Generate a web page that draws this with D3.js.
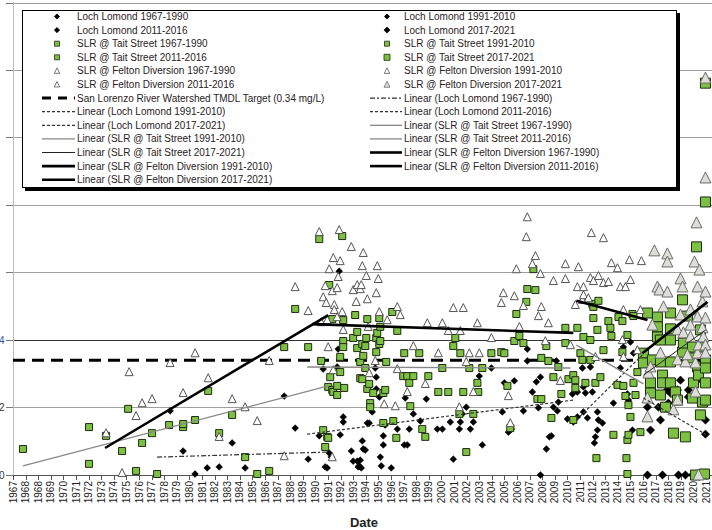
<!DOCTYPE html>
<html>
<head>
<meta charset="utf-8">
<script src="https://cdn.jsdelivr.net/npm/d3@7"></script>
<style>
  body { margin: 0; background: #fff; }
  text { font-family: "Liberation Sans", Arial, sans-serif; }
</style>
</head>
<body>
<div class="chart-container"></div>
<script>
// values: [decimal year, mg/L]
const lochLomond = [
  [1979.46,0.19],[1980.49,0.071],[1981.44,0.003],[1982.4,0.021],[1983.35,0.024],[1984.38,0.095],[1985.41,0.021],
  [1988.51,0.234],[1989.38,0.139],[1990.41,0.047],
  [1991.29,0.116],[1991.6,0.314],[1991.76,0.024],[1991.92,0.021],[1992.08,0.065],[1992.24,0.053],[1992.71,0.32],
  [1992.79,0.373],[1992.87,0.604],[1992.95,0.119],[1993.19,0.172],[1993.19,0.157],[1993.83,0.071],[1993.98,0.041],
  [1994.3,0.041],[1994.38,0.024],[1994.46,0.027],[1994.54,0.044],[1994.62,0.021],[1994.7,0.101],[1994.78,0.077],
  [1994.94,0.074],[1995.1,0.154],[1995.25,0.154],[1995.49,0.187],[1995.73,0.317],[1995.81,0.29],[1995.81,0.255],
  [1996.05,0.231],[1996.13,0.053],[1996.21,0.027],[1996.37,0.116],[1996.37,0.089],[1996.52,0.148],[1997.0,0.021],
  [1997.48,0.136],[1998.03,0.089],[1998.11,0.228],[1998.27,0.089],[1998.43,0.136],[1998.75,0.181],[1999.3,0.16],
  [1999.78,0.225],[2000.65,0.136],[2001.05,0.136],[2001.68,0.157],[2001.92,0.047],[2002.4,0.136],[2002.48,0.157],
  [2002.63,0.181],[2002.95,0.201],[2003.27,0.136],[2003.51,0.157],[2003.98,0.293],[2004.22,0.089],[2004.94,0.317],
  [2005.81,0.187],[2005.97,0.273],[2006.29,0.127],[2006.52,0.136],[2006.76,0.279],[2007.48,0.19],[2007.79,0.373],
  [2007.79,0.338],[2008.19,0.246],[2008.51,0.276],[2008.67,0.199],[2008.83,0.29],[2008.83,0.0],[2009.3,0.077],
  [2009.54,0.113],[2009.7,0.116],[2009.86,0.201],[2010.1,0.338],[2010.17,0.19],[2010.25,0.216],[2010.97,0.166],
  [2011.37,0.24],[2011.44,0.157],[2011.76,0.246],[2011.76,0.172],[2012.16,0.317],[2012.24,0.261],[2012.24,0.187],
  [2012.4,0.243],[2012.56,0.169],[2012.79,0.32],[2012.95,0.246],[2013.11,0.095],[2013.19,0.113],[2013.35,0.133],
  [2013.35,0.187],[2013.43,0.163],[2013.75,0.154],[2014.62,0.213],[2015.17,0.317],[2015.41,0.379],[2015.73,0.24],
  [2015.81,0.222],[2015.97,0.394],[2016.13,0.133],[2016.21,0.361],
  [2017.32,0.201],[2017.32,0.0],[2017.56,0.261],[2017.56,0.133],[2018.19,0.201],[2018.35,0.163],[2018.51,0.0],
  [2018.9,0.252],[2018.98,0.213],[2019.14,0.243],[2019.7,0.252],[2019.78,0.0],[2019.94,0.281],[2020.33,0.0],
  [2020.57,0.252],[2020.57,0.231],[2020.89,0.0],[2021.29,0.281],[2021.92,0.163],[2021.92,0.121]
];

const taitStreet = [
  [1967.79,0.077],[1973.03,0.033],[1973.03,0.142],[1974.38,0.116],[1975.65,0.071],[1976.13,0.196],[1976.76,0.012],
  [1977.24,0.095],[1978.03,0.124],[1978.43,0.003],[1979.38,0.148],[1980.49,0.142],[1980.5,0.151],[1981.44,0.163],
  [1982.48,0.249],[1983.35,0.124],[1984.38,0.178],[1985.41,0.053],[1986.37,0.003],[1987.32,0.012],[1988.51,0.379],
  [1989.38,0.492],[1990.41,0.379],
  [1991.29,0.699],[1991.44,0.338],[1991.6,0.133],[1991.76,0.083],[1991.92,0.113],[1992.0,0.11],[1992.0,0.261],
  [1992.08,0.563],[1992.16,0.29],[1992.32,0.252],[1992.32,0.462],[1992.4,0.246],[1992.71,0.264],[1992.71,0.237],
  [1992.95,0.305],[1992.95,0.35],[1993.11,0.708],[1993.19,0.397],[1993.19,0.379],[1993.19,0.459],[1993.27,0.258],
  [1993.98,0.406],[1994.14,0.474],[1994.3,0.424],[1994.3,0.376],[1994.54,0.335],[1994.54,0.287],[1994.7,0.388],
  [1994.7,0.284],[1994.78,0.353],[1994.94,0.382],[1994.94,0.317],[1995.02,0.406],[1995.1,0.255],[1995.1,0.462],
  [1995.25,0.27],[1995.33,0.213],[1995.33,0.201],[1995.57,0.243],[1995.81,0.406],[1995.81,0.364],[1995.89,0.421],
  [1996.05,0.465],[1996.05,0.388],[1996.13,0.439],[1996.13,0.397],[1996.37,0.243],[1996.37,0.154],[1996.52,0.252],
  [1996.6,0.335],[1997.08,0.483],[1997.16,0.16],[1997.4,0.11],[1997.48,0.427],[1997.95,0.293],[1998.03,0.361],
  [1998.27,0.293],[1998.43,0.273],[1998.51,0.204],[1998.75,0.293],[1999.22,0.361],[1999.46,0.136],[1999.7,0.113],
  [1999.94,0.293],[2000.73,0.246],[2001.05,0.317],[2001.52,0.246],[2001.92,0.382],[2002.08,0.406],[2002.4,0.181],
  [2002.48,0.361],[2002.71,0.246],[2002.95,0.068],[2003.19,0.317],[2003.51,0.181],[2003.83,0.273],[2003.9,0.246],
  [2004.22,0.317],[2004.94,0.361],[2005.73,0.364],[2005.97,0.361],[2006.21,0.264],[2006.44,0.139],[2006.76,0.397],
  [2006.92,0.477],[2007.16,0.412],[2007.48,0.391],[2007.71,0.513],[2007.79,0.551],[2008.27,0.61],[2008.43,0.548],
  [2008.59,0.225],[2008.9,0.225],[2008.9,0.347],[2009.3,0.382],[2009.46,0.338],[2009.7,0.169],[2009.86,0.29],
  [2010.25,0.32],[2010.49,0.24],[2010.81,0.436],[2010.81,0.391],
  [2011.05,0.284],[2011.44,0.296],[2011.44,0.163],[2011.6,0.281],[2011.6,0.258],[2011.76,0.436],[2012.0,0.361],
  [2012.16,0.341],[2012.24,0.409],[2012.4,0.273],[2012.79,0.4],[2012.79,0.341],[2012.95,0.507],[2013.03,0.498],
  [2013.03,0.465],[2013.19,0.273],[2013.27,0.05],[2013.35,0.43],[2013.43,0.516],[2013.59,0.29],[2013.83,0.37],
  [2014.22,0.456],[2014.38,0.436],[2014.46,0.412],[2014.62,0.119],[2014.94,0.267],[2015.02,0.468],[2015.33,0.456],
  [2015.33,0.364],[2015.41,0.264],[2015.57,0.234],[2015.65,0.05],[2015.73,0.415],[2015.73,0.104],[2015.73,0.003],
  [2015.81,0.207],[2015.81,0.119],[2015.97,0.172],[2016.13,0.477],[2016.21,0.471],[2016.21,0.273],[2016.37,0.237],
  [2016.52,0.305],[2016.76,0.127],
  [2017.0,0.361],[2017.0,0.332],[2017.32,0.48],[2017.56,0.273],[2017.56,0.243],[2017.71,0.341],[2018.11,0.468],
  [2018.11,0.439],[2018.11,0.409],[2018.35,0.4],[2018.35,0.335],[2018.35,0.237],[2018.51,0.296],[2018.51,0.273],
  [2018.75,0.201],[2019.14,0.48],[2019.14,0.433],[2019.14,0.4],[2019.14,0.335],[2019.14,0.273],[2019.38,0.124],
  [2019.54,0.246],[2019.7,0.222],[2020.1,0.519],[2020.1,0.364],[2020.17,0.391],[2020.33,0.113],[2020.49,0.471],
  [2020.73,0.347],[2020.89,0.379],[2020.89,0.228],[2020.97,0.273],[2021.13,0.0],[2021.21,0.676],[2021.29,0.32],
  [2021.37,0.296],[2021.52,0.43],[2021.52,0.178],[2021.68,0.379],[2021.68,0.216],[2021.84,0.003],[2021.92,0.341],
  [2021.92,0.317],[2021.92,0.273],[2021.92,0.222],[2021.92,0.809],[2021.92,1.161]
];

const feltonDiversion = [
  [1974.38,0.124],[1975.65,0.006],[1976.21,0.305],[1976.76,0.175],[1977.24,0.213],[1978.03,0.225],[1979.46,0.332],
  [1980.49,0.243],[1981.44,0.361],[1982.48,0.287],[1983.35,0.113],[1984.38,0.225],[1985.41,0.201],[1986.37,0.16],
  [1987.32,0.338],[1988.51,0.056],[1989.38,0.557],[1990.41,0.486],
  [1991.29,0.72],[1991.44,0.453],[1991.6,0.527],[1991.76,0.56],[1991.84,0.51],[1991.92,0.459],[1992.0,0.379],
  [1992.08,0.61],[1992.32,0.545],[1992.32,0.053],[1992.4,0.643],[1992.4,0.311],[1992.48,0.504],[1992.48,0.489],
  [1992.71,0.554],[1992.71,0.468],[1992.79,0.587],[1992.87,0.726],[1992.95,0.634],[1993.11,0.483],[1993.19,0.43],
  [1993.83,0.676],[1993.98,0.548],[1994.22,0.513],[1994.3,0.563],[1994.54,0.551],[1994.62,0.563],[1994.7,0.619],
  [1994.78,0.658],[1995.02,0.59],[1995.1,0.521],[1995.17,0.439],[1995.25,0.302],[1995.73,0.338],[1995.81,0.539],
  [1995.89,0.619],[1995.97,0.581],[1996.05,0.483],[1996.44,0.21],[1996.68,0.459],[1997.32,0.204],[1997.48,0.498],
  [1997.48,0.314],[1997.71,0.474],[1998.27,0.246],[1998.75,0.382],[1999.7,0.27],[1999.86,0.45],[2000.73,0.361],
  [2001.05,0.45],[2001.52,0.427],[2001.92,0.495],[2002.4,0.201],[2002.48,0.427],[2002.71,0.495],[2002.95,0.335],
  [2003.19,0.361],[2003.51,0.246],[2003.83,0.45],[2003.98,0.361],[2004.94,0.406],[2005.73,0.51],[2005.89,0.539],
  [2006.29,0.234],[2006.44,0.154],[2006.76,0.53],[2006.92,0.61],[2007.16,0.439],[2007.48,0.501],[2007.71,0.705],
  [2007.79,0.764],[2008.19,0.625],[2008.43,0.649],[2008.67,0.471],[2008.83,0.596],[2008.9,0.498],[2009.22,0.397],
  [2009.46,0.45],[2009.86,0.575],[2010.41,0.279],[2010.81,0.581],[2010.81,0.625],
  [2011.21,0.385],[2011.6,0.504],[2011.76,0.557],[2011.84,0.616],[2012.16,0.519],[2012.24,0.557],[2012.24,0.533],
  [2012.63,0.524],[2012.79,0.584],[2012.87,0.717],[2013.03,0.575],[2013.19,0.35],[2013.43,0.59],[2013.83,0.569],
  [2013.83,0.702],[2014.22,0.572],[2014.46,0.628],[2014.94,0.613],[2015.17,0.557],[2015.33,0.4],[2015.41,0.489],
  [2015.41,0.35],[2015.57,0.557],[2015.89,0.637],[2015.97,0.578],[2016.52,0.37],[2016.76,0.489],[2016.84,0.634],
  [2017.32,0.228],[2017.32,0.172],[2017.4,0.302],[2017.56,0.32],[2017.71,0.444],[2017.87,0.664],[2018.11,0.557],
  [2018.27,0.548],[2018.35,0.361],[2018.59,0.498],[2018.9,0.655],[2018.9,0.631],[2018.9,0.542],[2019.38,0.193],
  [2019.7,0.43],[2019.7,0.341],[2019.7,0.222],[2019.94,0.581],[2019.94,0.474],[2020.1,0.557],[2020.17,0.421],
  [2020.33,0.335],[2020.49,0.356],[2020.73,0.489],[2020.73,0.444],[2020.73,0.409],[2021.05,0.631],[2021.13,0.332],
  [2021.13,0.246],[2021.21,0.747],[2021.29,0.557],[2021.29,0.468],[2021.29,0.361],[2021.37,0.385],[2021.37,0.0],
  [2021.44,0.607],[2021.68,0.513],[2021.68,0.436],[2021.76,0.409],[2021.92,0.542],[2021.92,0.385],[2021.92,0.361],
  [2021.92,0.465],[2021.92,0.88],[2021.92,1.176]
];

// linear trend lines, start and end points [year, mg/L]
const llTrends = [[[1978.43,0.053],[1992.0,0.068]], [[1990.33,0.121],[2011.44,0.222]],
                  [[2011.68,0.163],[2016.92,0.356]], [[2017.0,0.228],[2021.95,0.12]]];
const taitTrends = [[[1967.79,0.027],[1992.0,0.264]], [[1990.33,0.32],[2011.21,0.317]],
                    [[2011.68,0.385],[2017.0,0.27]], [[2017.0,0.296],[2021.95,0.43]]];
const feltonTrends = [[[1974.3,0.08],[1992.0,0.474]], [[1990.73,0.447],[2011.44,0.421]],
                      [[2011.68,0.516],[2017.32,0.459]], [[2016.92,0.361],[2022.08,0.513]]];

const tmdlTarget = 0.34;
const periods = ['1967-1990', '1991-2010', '2011-2016', '2017-2021'];
const xTickLabels = ['1967', '1968'].concat(d3.range(1968, 2022).map(String));
const yTickValues = [0, 0.2, 0.4, 0.6, 0.8, 1.0, 1.2, 1.4];
// only the lowest labels show at the cropped left edge
const yTickLabels = ['0.0', '0.2', '0.4'];

const W = 712, H = 530;
const DAY = 864e5;
const start = new Date(1967, 0, 1);
const toDate = yr => new Date(start.getTime() + (yr - 1967) * 365.25 * DAY);
const periodOf = yr => yr < 1991 ? 0 : yr < 2011 ? 1 : yr < 2017 ? 2 : 3;

const svg = d3.select('.chart-container').append('svg')
  .attr('width', W).attr('height', H);

const x = d3.scaleTime()
  .domain([start, new Date(start.getTime() + 55 * 365 * DAY)])
  .range([13, 706]);
const y = d3.scaleLinear().domain([0, 1.4]).range([475, 2.5]);

// gridlines
svg.append('g').selectAll('line').data(yTickValues.slice(1)).join('line')
  .attr('x1', 13).attr('x2', W)
  .attr('y1', d => Math.round(y(d)) + 0.5).attr('y2', d => Math.round(y(d)) + 0.5)
  .attr('stroke', d => d === 0.4 ? '#333' : '#a0a0a0').attr('stroke-width', 1);

// y axis
svg.append('line').attr('x1', 13.5).attr('x2', 13.5).attr('y1', 2).attr('y2', 475)
  .attr('stroke', '#bbb');
const gy = svg.append('g');
gy.selectAll('line').data(yTickValues).join('line')
  .attr('x1', 6).attr('x2', 13)
  .attr('y1', d => Math.round(y(d)) + 0.5).attr('y2', d => Math.round(y(d)) + 0.5)
  .attr('stroke', '#777');
gy.selectAll('text').data(yTickLabels).join('text')
  .attr('x', 4.5).attr('y', (d, i) => y(yTickValues[i])).attr('dy', '0.35em')
  .attr('text-anchor', 'end').attr('font-size', 10)
  .attr('fill', (d, i) => i === 2 ? '#3355aa' : '#333')
  .text(d => d);

// x axis
const tickDates = xTickLabels.map((t, i) => new Date(start.getTime() + i * 365 * DAY));
svg.append('line').attr('x1', 13).attr('x2', W).attr('y1', 475.5).attr('y2', 475.5)
  .attr('stroke', '#555');
const gx = svg.append('g');
gx.selectAll('line').data(tickDates).join('line')
  .attr('x1', d => Math.round(x(d)) + 0.5).attr('x2', d => Math.round(x(d)) + 0.5)
  .attr('y1', 475).attr('y2', 480).attr('stroke', '#555');
gx.selectAll('text').data(tickDates).join('text')
  .attr('transform', d => `translate(${x(d)},481) rotate(-90)`)
  .attr('dy', '0.35em').attr('text-anchor', 'end')
  .attr('font-size', 10).attr('fill', '#222')
  .text((d, i) => xTickLabels[i]);

svg.append('text').attr('x', 364).attr('y', 527).attr('text-anchor', 'middle')
  .attr('font-size', 13).attr('font-weight', 'bold').attr('fill', '#222').text('Date');

// marker shapes
const diamond = r => `M0,${-r}L${r},0L0,${r}L${-r},0Z`;
const square = s => `M${-s/2},${-s/2}h${s}v${s}h${-s}Z`;
const triangle = s => `M0,${-s*0.55}L${s/2},${s*0.45}L${-s/2},${s*0.45}Z`;

const markerStyle = {
  ll: p => ({ d: diamond(p === 3 ? 4.2 : 3.4), fill: '#000', stroke: '#000', sw: 0.5 }),
  tait: p => ({ d: square(p === 3 ? 10 : 7), fill: '#7cc142', stroke: '#1f2b12', sw: 1 }),
  felton: p => p === 3
    ? { d: triangle(11), fill: '#deded8', stroke: '#6a6a6a', sw: 1 }
    : { d: triangle(8), fill: '#fff', stroke: '#555', sw: 1 }
};

function drawSeries(data, key) {
  svg.append('g').selectAll('path').data(data).join('path')
    .attr('transform', d => `translate(${x(toDate(d[0]))},${y(d[1])})`)
    .each(function(d) {
      const s = markerStyle[key](periodOf(d[0]));
      d3.select(this).attr('d', s.d).attr('fill', s.fill)
        .attr('stroke', s.stroke).attr('stroke-width', s.sw);
    });
}

// TMDL target
svg.append('line').attr('x1', 13).attr('x2', W)
  .attr('y1', y(tmdlTarget)).attr('y2', y(tmdlTarget))
  .attr('stroke', '#000').attr('stroke-width', 3).attr('stroke-dasharray', '12,7');

drawSeries(lochLomond, 'll');
drawSeries(taitStreet, 'tait');
drawSeries(feltonDiversion, 'felton');

// trend lines
const trendStyle = {
  ll: p => ({ stroke: '#333', sw: 1.2, dash: p === 0 ? '5,2,2,2' : '3,2' }),
  tait: p => ({ stroke: p === 3 ? '#222' : '#888', sw: p === 3 ? 1 : 1.3, dash: null }),
  felton: p => ({ stroke: '#000', sw: 2.6, dash: null })
};
const line = d3.line().x(d => x(toDate(d[0]))).y(d => y(d[1]));
[[llTrends, 'll'], [taitTrends, 'tait'], [feltonTrends, 'felton']].forEach(([trends, key]) => {
  trends.forEach((pts, p) => {
    const s = trendStyle[key](p);
    svg.append('path').attr('d', line(pts)).attr('fill', 'none')
      .attr('stroke', s.stroke).attr('stroke-width', s.sw)
      .attr('stroke-dasharray', s.dash);
  });
});

// legend
const lg = svg.append('g');
lg.append('rect').attr('x', 25).attr('y', 13).attr('width', 655).attr('height', 178).attr('fill', '#000');
lg.append('rect').attr('x', 22.5).attr('y', 10.5).attr('width', 654).attr('height', 177)
  .attr('fill', '#fff').attr('stroke', '#000').attr('stroke-width', 1);

const names = ['Loch Lomond', 'SLR @ Tait Street', 'SLR @ Felton Diversion'];
const keys = ['ll', 'tait', 'felton'];
const legendItems = [];
keys.forEach((k, si) => periods.forEach((per, p) =>
  legendItems.push({ type: 'marker', key: k, p, label: `${names[si]} ${per}` })));
legendItems.push({ type: 'tmdl', label: `San Lorenzo River Watershed TMDL Target (${tmdlTarget} mg/L)` });
keys.forEach((k, si) => periods.forEach((per, p) =>
  legendItems.push({ type: 'trend', key: k, p, label: `Linear (${names[si]} ${per})` })));

legendItems.forEach((it, i) => {
  const col = i % 2, row = Math.floor(i / 2);
  const cy = 16.5 + row * 13.6;
  const tx = col === 0 ? 77 : 404;
  const lx0 = col === 0 ? 42 : 370, lx1 = tx - 2;
  const mx = col === 0 ? 57 : 387;
  const g = lg.append('g');
  if (it.type === 'marker') {
    const base = markerStyle[it.key](it.p);
    const small = it.key === 'll' ? diamond(it.p === 3 ? 3 : 2.6)
      : it.key === 'tait' ? square(it.p === 3 ? 6 : 5) : triangle(it.p === 3 ? 6 : 5.5);
    g.append('path').attr('d', small).attr('transform', `translate(${mx},${cy})`)
      .attr('fill', base.fill).attr('stroke', base.stroke).attr('stroke-width', 0.8);
  } else if (it.type === 'tmdl') {
    g.append('line').attr('x1', lx0).attr('x2', lx1).attr('y1', cy).attr('y2', cy)
      .attr('stroke', '#000').attr('stroke-width', 3).attr('stroke-dasharray', '9,7');
  } else {
    const s = trendStyle[it.key](it.p);
    g.append('line').attr('x1', lx0).attr('x2', lx1).attr('y1', cy).attr('y2', cy)
      .attr('stroke', s.stroke).attr('stroke-width', s.sw).attr('stroke-dasharray', s.dash);
  }
  g.append('text').attr('x', tx).attr('y', cy).attr('dy', '0.35em')
    .attr('font-size', 10).attr('fill', '#2a2222').text(it.label);
});
</script>
</body>
</html>
